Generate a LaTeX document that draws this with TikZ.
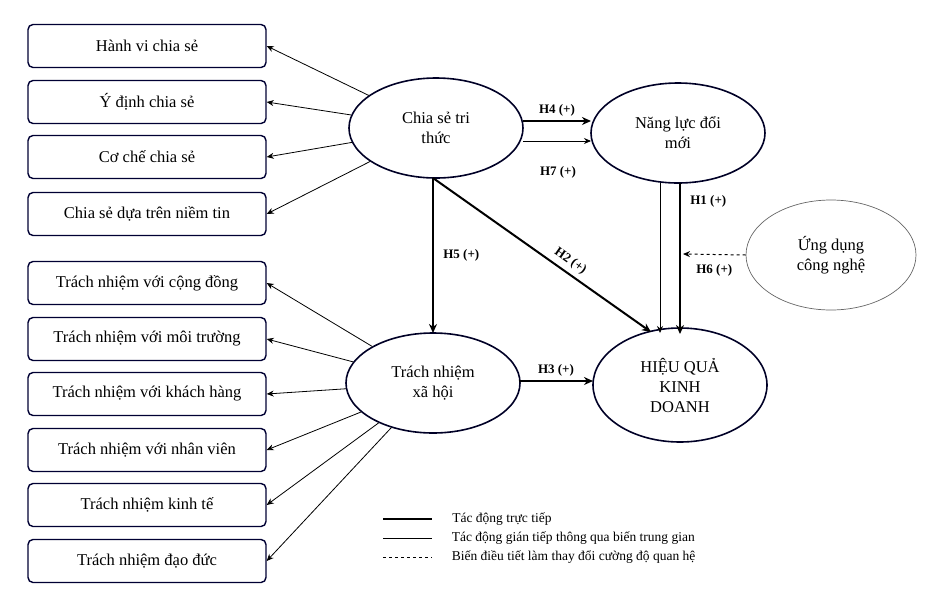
\documentclass[tikz,border=0pt]{standalone}
\usepackage{fontspec}
\setmainfont{Liberation Serif}
\usetikzlibrary{arrows.meta,shapes.geometric}
\begin{document}
\begin{tikzpicture}[x=1pt,y=-1pt,
 box/.style={draw=black!80!blue,line width=1.4pt,rounded corners=5pt,minimum width=238pt,minimum height=43pt,font=\fontsize{16.5}{19}\selectfont},
 ell/.style={draw=black!85!blue,line width=1.6pt,ellipse,minimum width=174pt,minimum height=100pt,align=center,font=\fontsize{16.5}{20}\selectfont},
 thin/.style={-{Stealth[length=7pt,width=6pt]},line width=0.8pt},
 thick/.style={-{Stealth[length=9pt,width=8pt]},line width=2pt},
 lab/.style={font=\bfseries\fontsize{13}{15}\selectfont},
 leg/.style={right=16pt,font=\fontsize{13.5}{15}\selectfont}]
\useasboundingbox (0,0) rectangle (935,603);
\node[box] (b1) at (147,46) {Hành vi chia sẻ};
\node[box] (b2) at (147,102) {Ý định chia sẻ};
\node[box] (b3) at (147,157) {Cơ chế chia sẻ};
\node[box] (b4) at (147,214) {Chia sẻ dựa trên niềm tin};
\node[box] (c1) at (147,283) {Trách nhiệm với cộng đồng};
\node[box] (c2) at (147,339) {Trách nhiệm với môi trường};
\node[box] (c3) at (147,394) {Trách nhiệm với khách hàng};
\node[box] (c4) at (147,450) {Trách nhiệm với nhân viên};
\node[box] (c5) at (147,505) {Trách nhiệm kinh tế};
\node[box] (c6) at (147,561) {Trách nhiệm đạo đức};
\node[ell] (cs) at (436,128) {Chia sẻ tri\\thức};
\node[ell] (nl) at (678,133) {Năng lực đổi\\mới};
\node[ell] (tn) at (433,383) {Trách nhiệm\\xã hội};
\node[ell,minimum height=114pt] (hq) at (680,385) {HIỆU QUẢ\\KINH\\DOANH};
\node[ell,draw=black!60,line width=0.7pt,minimum width=170pt,minimum height=110pt] (ud) at (831,255) {Ứng dụng\\công nghệ};
\foreach \b in {b1,b2,b3,b4} \draw[thin] (cs) -- (\b.east);
\foreach \b in {c1,c2,c3,c4,c5,c6} \draw[thin] (tn) -- (\b.east);
\coordinate (a1) at (523,121); \coordinate (a2) at (591,121);
\draw[thick] (a1) -- (a2) node[lab,midway,above] {H4 (+)};
\coordinate (a3) at (523,141); \coordinate (a4) at (591,141);
\draw[thin] (a3) -- (a4);
\node[lab] (h7) at (558,172) {H7 (+)};
\coordinate (p) at (433,178);
\coordinate (p5) at (433,333);
\coordinate (p2) at (651,332);
\draw[thick] (p) -- (p5) node[lab,pos=0.5,right=6pt] {H5 (+)};
\draw[thick] (p) -- (p2) node[lab,pos=0.6,above=1pt,sloped] {H2 (+)};
\coordinate (q1) at (680,183); \coordinate (q2) at (680,334);
\draw[thick] (q1) -- (q2) node[lab,pos=0.12,right=6pt] {H1 (+)};
\coordinate (r1) at (660,183); \coordinate (r2) at (660,333);
\draw[thin] (r1) -- (r2);
\coordinate (u) at (683,254);
\draw[thin,dashed,line width=1pt] (ud.west) -- (u) node[lab,pos=0.5,below=6pt] {H6 (+)};
\coordinate (t1) at (519,381); \coordinate (t2) at (593,381);
\draw[thick] (t1) -- (t2) node[lab,midway,above] {H3 (+)};
\draw[line width=2pt] (383,519) -- (432,519) node[leg] {Tác động trực tiếp};
\draw[line width=0.9pt] (383,538) -- (432,538) node[leg] {Tác động gián tiếp thông qua biến trung gian};
\draw[line width=1pt,dashed] (383,557) -- (432,557) node[leg] {Biến điều tiết làm thay đổi cường độ quan hệ};
\end{tikzpicture}
\end{document}
